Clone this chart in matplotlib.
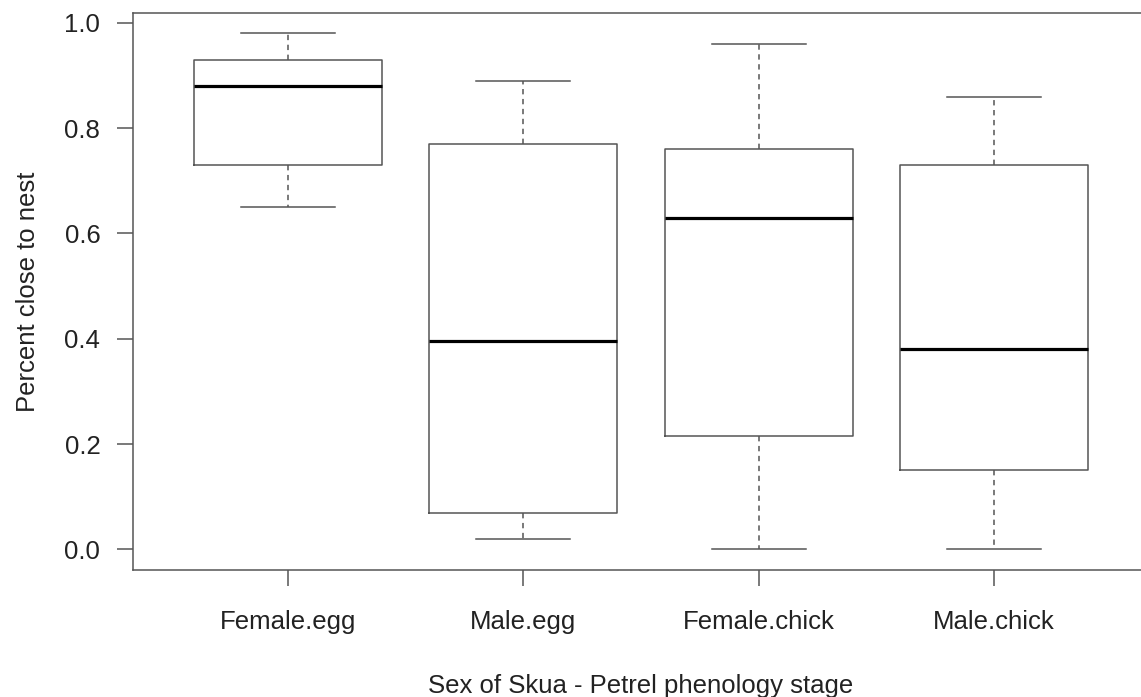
import matplotlib
matplotlib.use("Agg")
import matplotlib.pyplot as plt

# five-number summaries per group
groups = ["Female.egg", "Male.egg", "Female.chick", "Male.chick"]
whisker_low = [0.65, 0.02, 0.00, 0.00]
q1 = [0.73, 0.07, 0.215, 0.15]
medians = [0.88, 0.395, 0.63, 0.38]
q3 = [0.93, 0.77, 0.76, 0.73]
whisker_high = [0.98, 0.89, 0.96, 0.86]
yticks = [0.0, 0.2, 0.4, 0.6, 0.8, 1.0]

plt.rcParams['font.family'] = ['Liberation Sans', 'DejaVu Sans']

stats = []
for i in range(len(groups)):
    stats.append(dict(label=groups[i], whislo=whisker_low[i], q1=q1[i],
                      med=medians[i], q3=q3[i], whishi=whisker_high[i], fliers=[]))

fig = plt.figure(figsize=(11.41, 6.97), dpi=100)
W, H = 1141, 697
L, R, T, B = 133, 1149, 12.7, 570
ax = fig.add_axes([L / W, (H - B) / H, (R - L) / W, (B - T) / H])

lc = '#555555'
tc = '#222222'
fs = 18.5
ax.bxp(stats, positions=[1, 2, 3, 4], widths=0.8, showfliers=False,
       boxprops=dict(color=lc, linewidth=1.1),
       whiskerprops=dict(color=lc, linewidth=1.1, linestyle=(0, (3.5, 3))),
       capprops=dict(color=lc, linewidth=1.1),
       medianprops=dict(color='black', linewidth=2.3),
       capwidths=0.4)

ax.set_xlim(0.34, 4.66)
ax.set_ylim(-0.0392, 1.0192)
ax.set_yticks(yticks)
ax.set_yticklabels([f"{v:.1f}" for v in yticks])
ax.set_xticks([1, 2, 3, 4])
ax.set_xticklabels(groups)

for s in ax.spines.values():
    s.set_color(lc)
    s.set_linewidth(1.1)
ax.tick_params(axis='both', colors=lc, length=11.5, width=1.1, labelsize=fs,
               labelcolor=tc)
ax.tick_params(axis='x', pad=17)
ax.tick_params(axis='y', pad=12)

ax.set_ylabel("Percent close to nest", fontsize=fs, color=tc)
ax.set_xlabel("Sex of Skua - Petrel phenology stage", fontsize=fs, color=tc)
ax.yaxis.set_label_coords((40 - L) / (R - L), 0.5)
ax.xaxis.set_label_coords(0.5, -(674 - B) / (B - T))

fig.savefig("out.png", dpi=100)
